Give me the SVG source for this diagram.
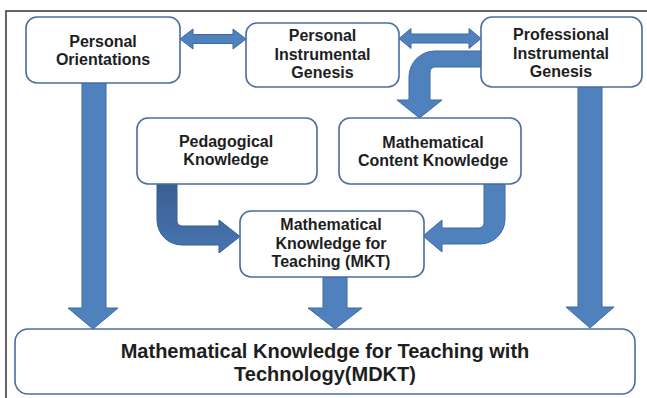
<svg xmlns="http://www.w3.org/2000/svg" width="647" height="398" viewBox="0 0 647 398">
<defs>
<style>
.box{fill:#fff;stroke:#4a6da0;stroke-width:1.6}
.t{font-family:"Liberation Sans",Arial,sans-serif;font-weight:700;fill:#1e1e1e;text-anchor:middle;font-size:16px}
.big{font-size:20px}
.arr{fill:#4f81bd;stroke:#3d6aa3;stroke-width:1}
.dark{fill:url(#g1);stroke:#375d93;stroke-width:1}
</style>
<linearGradient id="g1" x1="0" y1="0" x2="0" y2="1">
<stop offset="0" stop-color="#3c5f95"/>
<stop offset="1" stop-color="#4674b0"/>
</linearGradient>
</defs>
<rect x="0" y="0" width="647" height="398" fill="#fff"/>
<rect x="6" y="11" width="700" height="420" fill="none" stroke="#333" stroke-width="1.5"/>

<g id="connectors">
<path class="arr" d="M180,39 L193,29 V34.5 H233 V29 L246,39 L233,49 V43.5 H193 V49 Z"/>
<path class="arr" d="M399,38.5 L411,28.5 V34 H469 V28.5 L481,38.5 L469,48.5 V43 H411 V48.5 Z"/>
<path class="arr" d="M483,51 H435 A26,26 0 0 0 409,77 V100 H397 L419.5,118 L442,100 H430 V72 A5,5 0 0 1 435,67 H483 Z"/>
<path class="dark" d="M157,184 V220 A25,25 0 0 0 182,245 H219 V253 L240,236.5 L219,220 V226 H182 A5,5 0 0 1 177,221 V184 Z"/>
<path class="arr" d="M505,184 V219 A25,25 0 0 1 480,244 H442 V252 L423,236 L442,220 V228 H479 A5,5 0 0 0 484,223 V184 Z"/>
<path class="arr" d="M82,83 H106 V308 H118 L93,329 L68,308 H82 Z"/>
<path class="arr" d="M578,87 H602 V307 H614 L590,328 L566,307 H578 Z"/>
<path class="arr" d="M323,277 H347 V308 H362 L335,329 L308,308 H323 Z"/>
</g>

<g id="n-po">
<rect class="box" x="26" y="17" width="154" height="66" rx="11"/>
<text class="t" x="103" y="47">Personal</text>
<text class="t" x="103" y="65">Orientations</text>
</g>
<g id="n-pig">
<rect class="box" x="246" y="23" width="153" height="64" rx="11"/>
<text class="t" x="322.5" y="41">Personal</text>
<text class="t" x="322.5" y="59.5">Instrumental</text>
<text class="t" x="322.5" y="78">Genesis</text>
</g>
<g id="n-prof">
<rect class="box" x="481" y="17" width="161" height="70" rx="11"/>
<text class="t" x="561" y="40">Professional</text>
<text class="t" x="561" y="58.5">Instrumental</text>
<text class="t" x="561" y="77">Genesis</text>
</g>
<g id="n-pk">
<rect class="box" x="137" y="118" width="180" height="66" rx="11"/>
<text class="t" x="226" y="147">Pedagogical</text>
<text class="t" x="226" y="165">Knowledge</text>
</g>
<g id="n-mck">
<rect class="box" x="339" y="118" width="182" height="66" rx="11"/>
<text class="t" x="433" y="148">Mathematical</text>
<text class="t" x="433" y="166">Content Knowledge</text>
</g>
<g id="n-mkt">
<rect class="box" x="240" y="211" width="184" height="66" rx="11"/>
<text class="t" x="331" y="230">Mathematical</text>
<text class="t" x="331" y="248.5">Knowledge for</text>
<text class="t" x="331" y="267">Teaching (MKT)</text>
</g>
<g id="n-mdkt">
<rect class="box" x="15" y="329" width="620" height="65" rx="13"/>
<text class="t big" x="325" y="358">Mathematical Knowledge for Teaching with</text>
<text class="t big" x="325" y="381">Technology(MDKT)</text>
</g>
</svg>
